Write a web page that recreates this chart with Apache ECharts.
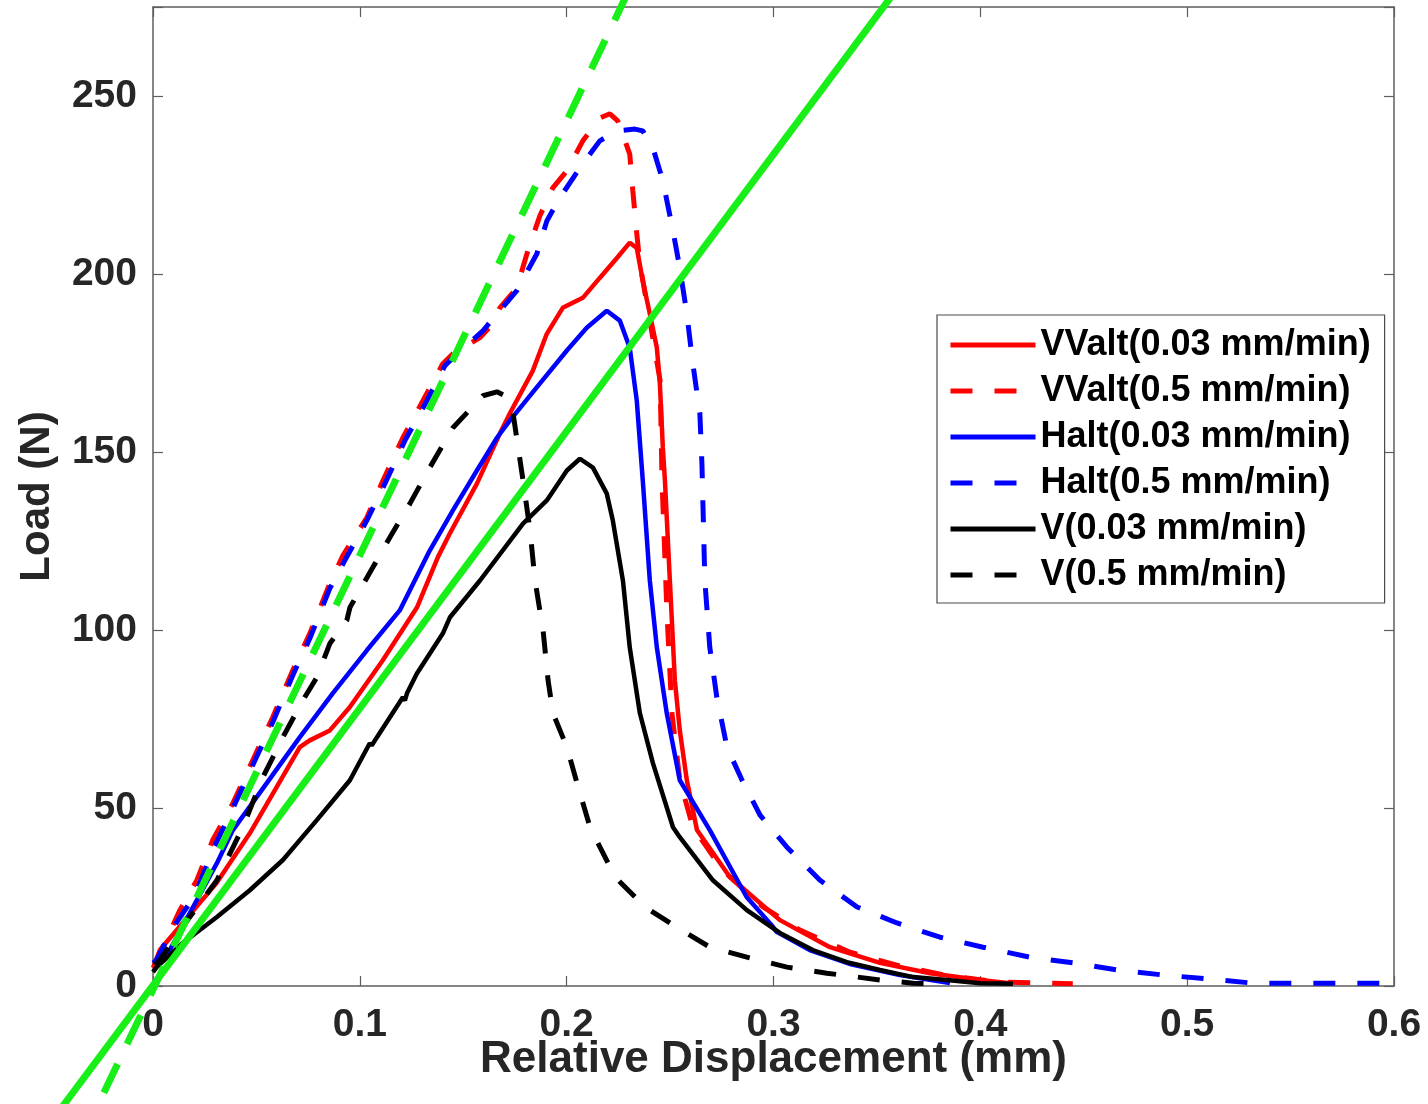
<!DOCTYPE html>
<html>
<head>
<meta charset="utf-8">
<script src="https://cdn.jsdelivr.net/npm/echarts@6/dist/echarts.min.js"></script>
<style>
html,body{margin:0;padding:0;background:#fff;}
#chart{width:1428px;height:1104px;}
</style>
</head>
<body>
<div id="chart"></div>
<script>
// ---- data (x: relative displacement in mm, y: load in N) ----
const xTickLabels = [0, 0.1, 0.2, 0.3, 0.4, 0.5, 0.6];
const yTickLabels = [0, 50, 100, 150, 200, 250];

const seriesNames = [
  'VValt(0.03 mm/min)', 'VValt(0.5 mm/min)',
  'Halt(0.03 mm/min)', 'Halt(0.5 mm/min)',
  'V(0.03 mm/min)', 'V(0.5 mm/min)'
];

const vvalt003 = [[0,5.1],[0.0033,10.1],[0.0307,28.9],[0.0468,42.9],[0.071,67.1],[0.0758,69.0],[0.0855,71.8],[0.0951,78.3],[0.1111,91.5],[0.1276,106.3],[0.1377,120.4],[0.1435,127.1],[0.1566,141.1],[0.1677,155.2],[0.1725,160.8],[0.1836,172.8],[0.1904,183.2],[0.1981,190.5],[0.2078,193.3],[0.216,198.9],[0.2243,204.5],[0.2305,208.8],[0.2339,207.3],[0.2368,198.1],[0.2402,188.8],[0.2436,179.3],[0.245,170.0],[0.2465,151.2],[0.2475,142.0],[0.2499,113.9],[0.2523,85.9],[0.2547,71.8],[0.2581,57.8],[0.263,43.8],[0.2789,30.6],[0.3031,18.5],[0.3273,10.9],[0.3515,6.5],[0.3757,3.6],[0.3999,1.7],[0.4144,0.8]];

const vvalt05 = [[0.0009,5.9],[0.0018,7.3],[0.013,21.3],[0.0212,29.7],[0.0289,41.0],[0.0386,51.3],[0.0482,63.4],[0.0579,75.5],[0.0676,88.7],[0.0758,99.0],[0.0855,113.1],[0.0918,120.9],[0.1034,131.6],[0.1112,142.0],[0.1208,154.0],[0.1305,164.4],[0.1401,174.8],[0.145,177.6],[0.158,182.1],[0.1643,186.0],[0.1677,190.5],[0.1759,196.1],[0.1808,205.7],[0.187,216.3],[0.1933,224.2],[0.2001,229.0],[0.2078,237.4],[0.216,243.8],[0.2209,245.0],[0.2247,243.0],[0.2305,233.7],[0.232,223.3],[0.2339,211.3],[0.2354,202.9],[0.2402,186.9],[0.2452,170.0],[0.2461,142.0],[0.2485,104.7],[0.2509,76.6],[0.2547,57.8],[0.261,44.6],[0.2644,41.8],[0.2755,32.5],[0.2949,22.2],[0.3128,15.7],[0.337,9.5],[0.3612,5.6],[0.3853,2.8],[0.4095,1.1],[0.4447,0.6]];

const halt003 = [[0,6.5],[0.0081,10.1],[0.0309,34.5],[0.0386,43.8],[0.055,57.0],[0.071,69.9],[0.0869,82.2],[0.1034,94.3],[0.1193,105.5],[0.1338,122.3],[0.145,133.6],[0.1566,144.8],[0.1663,154.0],[0.1725,158.8],[0.187,169.2],[0.2001,178.5],[0.2097,184.9],[0.2194,189.7],[0.2257,186.9],[0.2305,179.3],[0.2339,164.4],[0.2368,142.0],[0.2402,113.9],[0.2436,95.1],[0.2484,76.6],[0.2547,57.8],[0.2692,43.8],[0.287,25.0],[0.2991,17.1],[0.3015,15.2],[0.3175,10.1],[0.3369,6.2],[0.3611,3.1],[0.3853,0.8]];

const halt05 = [[0.0009,6.5],[0.0105,17.1],[0.0203,25.5],[0.0289,38.2],[0.0386,49.9],[0.0482,62.0],[0.0579,74.1],[0.0676,87.3],[0.0758,97.6],[0.0855,111.7],[0.0927,119.5],[0.1034,130.8],[0.1121,141.1],[0.1218,153.2],[0.1324,164.4],[0.1411,174.2],[0.147,177.6],[0.1596,184.1],[0.1677,189.7],[0.1759,195.3],[0.1856,205.7],[0.1904,214.9],[0.1967,221.4],[0.2064,229.8],[0.216,237.4],[0.2243,240.2],[0.233,240.7],[0.2368,240.2],[0.2417,235.4],[0.2465,226.2],[0.2514,212.1],[0.2547,201.7],[0.2581,188.8],[0.261,174.8],[0.2644,160.8],[0.2654,146.7],[0.2668,113.9],[0.2692,95.1],[0.2726,81.1],[0.2775,67.1],[0.2848,57.8],[0.2935,48.0],[0.3065,39.0],[0.3225,29.7],[0.3404,22.2],[0.3597,17.7],[0.3805,13.7],[0.4013,10.9],[0.424,8.1],[0.4448,6.5],[0.4661,4.5],[0.4883,3.1],[0.5096,2.0],[0.5319,0.8],[0.5546,0.8],[0.5966,0.8]];

const v003 = [[0,3.9],[0.0018,5.3],[0.0144,12.1],[0.0309,19.4],[0.0468,26.9],[0.0628,35.4],[0.0792,46.6],[0.0952,57.8],[0.1048,68.2],[0.1058,67.6],[0.1083,69.9],[0.1208,81.1],[0.1218,80.2],[0.1228,82.2],[0.1276,87.8],[0.1401,99.0],[0.1435,103.5],[0.1581,113.9],[0.1789,129.9],[0.1904,136.4],[0.2001,144.8],[0.2064,148.1],[0.2127,145.6],[0.2194,138.3],[0.2223,130.8],[0.2272,113.9],[0.2305,95.1],[0.2354,76.6],[0.2417,62.6],[0.2514,44.6],[0.2547,41.8],[0.2707,29.7],[0.2871,21.3],[0.3031,14.9],[0.319,10.1],[0.3355,6.7],[0.3515,4.5],[0.3675,2.5],[0.3839,1.7],[0.3999,0.8],[0.4158,0.6]];

const v05 = [[0.0009,5.9],[0.0033,7.3],[0.0178,19.4],[0.0309,29.7],[0.0434,44.6],[0.0531,58.6],[0.0628,69.9],[0.0724,80.2],[0.0792,86.7],[0.0855,96.2],[0.0937,102.7],[0.0952,106.3],[0.1063,117.6],[0.1145,126.0],[0.1242,135.5],[0.1338,145.6],[0.145,156.8],[0.1595,165.8],[0.1663,166.9],[0.1702,165.8],[0.1741,160.8],[0.1789,142.0],[0.1823,127.9],[0.1847,113.9],[0.1886,99.9],[0.191,85.9],[0.1934,76.6],[0.2001,67.1],[0.205,57.0],[0.2113,44.6],[0.2234,30.6],[0.2379,22.2],[0.2529,16.6],[0.2693,10.9],[0.2871,8.1],[0.3065,5.3],[0.3258,3.6],[0.3515,1.7],[0.3675,0.8],[0.3757,0.6]];

// fitted stiffness lines (end points in data units; they run past the axes box)
const fitSolid = [[-0.06,-46.5],[0.37,288.1]];
const fitDashed = [[-0.035,-43.7],[0.235,285.7]];

// ---- styling ----
const colors = ['#ff0000','#ff0000','#0000ff','#0000ff','#000000','#000000'];
const dashed = [false,true,false,true,false,true];
const dataSets = [vvalt003, vvalt05, halt003, halt05, v003, v05];
const DASH = [22,22];
const GREEN = '#18ee18';
const FONT = '"Liberation Sans", Arial, Helvetica, sans-serif';
const AXIS_COLOR = '#5e5e5e';
const TEXT_COLOR = '#262626';
const X_MIN = 0, X_MAX = 0.6, Y_MIN = 0, Y_MAX = 275;

const series = dataSets.map((d, i) => ({
  name: seriesNames[i],
  type: 'line',
  data: d,
  symbol: 'none',
  showSymbol: false,
  smooth: false,
  lineStyle: { color: colors[i], width: dashed[i] ? 5 : 4.5, type: dashed[i] ? DASH : 'solid', cap: 'butt' },
  itemStyle: { color: colors[i] },
  emphasis: { disabled: true },
  z: 2
}));

const axisLineStyle = { color: AXIS_COLOR, width: 1.5 };
const tickStyle = { show: true, inside: true, length: 10, lineStyle: { color: AXIS_COLOR, width: 1.2 } };
const xFmt = v => xTickLabels.some(t => Math.abs(t - v) < 1e-9) ? String(+v.toFixed(1)) : '';
const yFmt = v => yTickLabels.some(t => Math.abs(t - v) < 1e-9) ? String(Math.round(v)) : '';

const option = {
  animation: false,
  backgroundColor: '#ffffff',
  grid: { left: 153, right: 34, top: 7, bottom: 118, containLabel: false },
  legend: {
    show: true,
    orient: 'vertical',
    left: 937, top: 315,
    padding: [10, 14, 8, 11],
    itemWidth: 85, itemHeight: 14, itemGap: 6,
    borderColor: '#4a4a4a', borderWidth: 1.2,
    backgroundColor: '#ffffff',
    selectedMode: false,
    textStyle: { fontFamily: FONT, fontSize: 36, fontWeight: 'bold', color: '#000', lineHeight: 40 },
    data: seriesNames.map((n, i) => ({
      name: n,
      itemStyle: { opacity: 0 },
      lineStyle: { color: colors[i], width: 5, type: dashed[i] ? DASH : 'solid' }
    }))
  },
  xAxis: [
    { type: 'value', min: X_MIN, max: X_MAX, interval: 0.1, position: 'bottom',
      name: 'Relative Displacement (mm)', nameLocation: 'middle', nameGap: 52, nameMoveOverlap: false,
      nameTextStyle: { fontFamily: FONT, fontSize: 44, fontWeight: 'bold', color: TEXT_COLOR },
      axisLine: { show: true, onZero: false, lineStyle: axisLineStyle },
      axisTick: tickStyle,
      axisLabel: { show: true, margin: 20, formatter: xFmt, fontFamily: FONT, fontSize: 39, fontWeight: 'bold', color: TEXT_COLOR },
      splitLine: { show: false } },
    { type: 'value', min: X_MIN, max: X_MAX, interval: 0.1, position: 'top',
      axisLine: { show: true, onZero: false, lineStyle: axisLineStyle },
      axisTick: tickStyle, axisLabel: { show: false }, splitLine: { show: false } }
  ],
  yAxis: [
    { type: 'value', min: Y_MIN, max: Y_MAX, interval: 50, position: 'left',
      name: 'Load (N)', nameLocation: 'middle', nameGap: 95, nameMoveOverlap: false,
      nameTextStyle: { fontFamily: FONT, fontSize: 42, fontWeight: 'bold', color: TEXT_COLOR },
      axisLine: { show: true, onZero: false, lineStyle: axisLineStyle },
      axisTick: tickStyle,
      axisLabel: { show: true, margin: 16, formatter: yFmt, fontFamily: FONT, fontSize: 39, fontWeight: 'bold', color: TEXT_COLOR },
      splitLine: { show: false } },
    { type: 'value', min: Y_MIN, max: Y_MAX, interval: 50, position: 'right',
      axisLine: { show: true, onZero: false, lineStyle: axisLineStyle },
      axisTick: tickStyle, axisLabel: { show: false }, splitLine: { show: false } }
  ],
  series: series
};

const chart = echarts.init(document.getElementById('chart'), null, { renderer: 'canvas', width: 1428, height: 1104 });
chart.setOption(option);

// Fit lines extend beyond the axes box: map their data end points with the
// chart's own axis scales (linear map from two in-range reference corners).
const c0 = chart.convertToPixel({ xAxisIndex: 0, yAxisIndex: 0 }, [X_MIN, Y_MIN]);
const c1 = chart.convertToPixel({ xAxisIndex: 0, yAxisIndex: 0 }, [X_MAX, Y_MAX]);
const toPx = p => [
  c0[0] + (p[0] - X_MIN) / (X_MAX - X_MIN) * (c1[0] - c0[0]),
  c0[1] + (p[1] - Y_MIN) / (Y_MAX - Y_MIN) * (c1[1] - c0[1])
];
const fitLine = (pts, dash) => {
  const a = toPx(pts[0]), b = toPx(pts[1]);
  return {
    type: 'line', z: 10, silent: true,
    shape: { x1: a[0], y1: a[1], x2: b[0], y2: b[1] },
    style: { stroke: GREEN, lineWidth: 7, lineDash: dash, lineCap: 'butt' }
  };
};
chart.setOption({ graphic: [ fitLine(fitSolid, null), fitLine(fitDashed, [32, 22]) ] });
</script>
</body>
</html>
